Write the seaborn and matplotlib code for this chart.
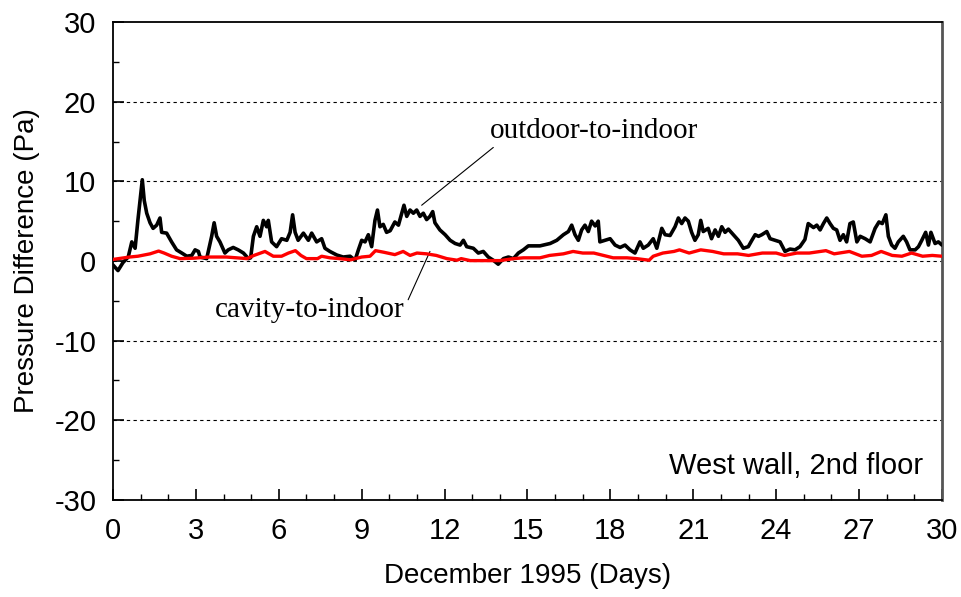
import pandas as pd
import matplotlib.pyplot as plt
import seaborn as sns

# outdoor-to-indoor pressure difference (Pa)
outdoor_days = [0.0, 0.18, 0.36, 0.55, 0.68, 0.8, 0.9, 1.0, 1.06, 1.13, 1.22, 1.34, 1.45, 1.58, 1.70,
                1.76, 1.94, 2.12, 2.3, 2.49, 2.67, 2.85, 2.97, 3.09, 3.15, 3.39, 3.57, 3.66, 3.75, 3.87,
                4.05, 4.17, 4.35, 4.53, 4.72, 4.9, 4.98, 5.08, 5.2, 5.32, 5.44, 5.56, 5.62, 5.74, 5.92,
                6.1, 6.29, 6.41, 6.5, 6.59, 6.7, 6.89, 7.07, 7.19, 7.37, 7.55, 7.67, 7.85, 8.1, 8.33,
                8.58, 8.76, 8.88, 9.0, 9.12, 9.24, 9.36, 9.48, 9.57, 9.66, 9.78, 9.9, 10.03, 10.2, 10.33,
                10.45, 10.53, 10.63, 10.75, 10.87, 10.99, 11.11, 11.23, 11.35, 11.47, 11.57, 11.65, 11.83,
                12.02, 12.2, 12.38, 12.56, 12.68, 12.8, 13.04, 13.22, 13.4, 13.58, 13.76, 13.94, 14.13,
                14.31, 14.49, 14.67, 14.85, 15.03, 15.45, 15.82, 16.06, 16.3, 16.48, 16.6, 16.72, 16.84,
                16.96, 17.08, 17.2, 17.32, 17.45, 17.56, 17.62, 17.8, 17.99, 18.17, 18.35, 18.53, 18.71,
                18.89, 19.07, 19.19, 19.37, 19.55, 19.68, 19.86, 19.98, 20.16, 20.34, 20.46, 20.58, 20.7,
                20.82, 20.94, 21.06, 21.18, 21.27, 21.36, 21.54, 21.66, 21.79, 21.91, 22.03, 22.15, 22.27,
                22.45, 22.63, 22.81, 22.99, 23.12, 23.24, 23.36, 23.48, 23.66, 23.78, 23.96, 24.14, 24.32,
                24.5, 24.68, 24.86, 25.04, 25.16, 25.35, 25.47, 25.59, 25.71, 25.83, 25.95, 26.07, 26.19,
                26.31, 26.43, 26.55, 26.67, 26.79, 26.92, 27.04, 27.22, 27.4, 27.58, 27.72, 27.84, 27.97,
                28.06, 28.18, 28.3, 28.42, 28.6, 28.72, 28.84, 29.03, 29.15, 29.27, 29.41, 29.51, 29.6,
                29.75, 29.87, 30.0]
outdoor_pa = [-0.5, -1.2, -0.2, 0.5, 2.4, 1.6, 5.1, 8.3, 10.2, 7.6, 6.0, 4.8, 4.1, 4.5, 5.4,
              3.6, 3.5, 2.4, 1.4, 1.0, 0.6, 0.7, 1.4, 1.2, 0.5, 0.3, 3.1, 4.8, 3.1, 2.4,
              1.0, 1.4, 1.7, 1.4, 1.0, 0.3, 0.4, 3.1, 4.3, 3.1, 5.1, 4.3, 5.1, 2.4, 1.8,
              2.8, 2.6, 3.6, 5.8, 3.6, 2.6, 3.5, 2.6, 3.5, 2.4, 2.8, 1.6, 1.2, 0.75, 0.5,
              0.6, 0.1, 1.4, 2.6, 2.4, 3.3, 1.8, 5.1, 6.4, 4.3, 4.6, 3.6, 3.8, 4.9, 4.5,
              6.0, 7.0, 5.6, 6.4, 6.0, 6.4, 5.6, 6.0, 5.2, 5.6, 6.2, 4.8, 3.9,
              3.3, 2.6, 2.2, 2.0, 2.6, 1.8, 1.6, 1.0, 1.2, 0.5, 0.1, -0.4, 0.3,
              0.5, 0.3, 1.0, 1.4, 1.9, 1.9, 2.2, 2.6, 3.3, 3.7, 4.5, 3.3, 2.6,
              3.9, 4.5, 3.7, 5.0, 4.4, 5.0, 2.4, 2.6, 2.8, 2.0, 1.7, 2.0, 1.4,
              1.0, 2.4, 1.6, 2.0, 2.8, 1.6, 4.1, 3.3, 3.2, 4.3, 5.4, 4.7, 5.4,
              5.0, 3.6, 2.6, 3.3, 5.1, 3.7, 4.1, 2.8, 3.9, 3.1, 4.3, 3.6, 4.0,
              3.3, 2.6, 1.6, 1.8, 2.6, 3.3, 3.1, 3.3, 3.7, 2.8, 2.6, 2.4, 1.2,
              1.5, 1.4, 1.8, 2.7, 4.7, 4.2, 4.5, 3.9, 4.7, 5.4, 4.7, 4.1, 3.9,
              2.6, 3.3, 2.4, 4.7, 4.9, 2.4, 3.1, 2.8, 2.4, 4.1, 4.9, 4.7, 5.8,
              3.1, 2.0, 1.6, 2.4, 3.1, 2.4, 1.4, 1.4, 1.8, 2.6, 3.6, 2.0, 3.6,
              2.2, 2.4, 2.0]

# cavity-to-indoor pressure difference (Pa)
cavity_days = [0.0, 0.6, 0.9, 1.34, 1.65, 1.85, 2.12, 2.43, 2.9, 3.5, 4.1, 4.85, 5.1, 5.5, 5.8, 6.1,
               6.35, 6.6, 6.8, 7.0, 7.4, 7.55, 7.85, 8.2, 8.6, 9.0, 9.3, 9.5, 9.8, 10.2, 10.5, 10.75,
               11.0, 11.35, 11.7, 12.08, 12.45, 12.6, 12.93, 13.5, 14.0, 14.5, 14.85, 15.2, 15.45,
               15.8, 16.3, 16.65, 17.0, 17.4, 17.75, 18.1, 18.6, 18.95, 19.4, 19.55, 19.9, 20.3, 20.5,
               20.85, 21.27, 21.7, 22.1, 22.6, 23.0, 23.5, 24.0, 24.3, 24.75, 25.2, 25.8, 26.1, 26.65,
               27.1, 27.45, 27.8, 28.2, 28.55, 28.9, 29.3, 29.65, 30.0]
cavity_pa = [0.2, 0.5, 0.6, 0.9, 1.25, 1.0, 0.6, 0.3, 0.35, 0.5, 0.5, 0.3, 0.7, 1.2, 0.6, 0.6,
             1.0, 1.3, 0.7, 0.3, 0.3, 0.6, 0.4, 0.3, 0.15, 0.5, 0.6, 1.3, 1.1, 0.8, 1.2, 0.7,
             1.0, 0.9, 0.7, 0.3, 0.1, 0.3, 0.05, 0.05, 0.05, 0.3, 0.4, 0.4, 0.4,
             0.7, 0.9, 1.2, 1.0, 1.0, 0.7, 0.4, 0.4, 0.3, 0.1, 0.6, 1.0, 1.2, 1.4,
             1.0, 1.4, 1.2, 0.9, 0.9, 0.7, 1.0, 1.0, 0.7, 1.0, 1.0, 1.3, 0.9, 1.2,
             0.6, 0.7, 1.2, 0.7, 0.6, 1.0, 0.6, 0.7, 0.6]

x_ticks = [0, 3, 6, 9, 12, 15, 18, 21, 24, 27, 30]
y_ticks = [-30, -20, -10, 0, 10, 20, 30]
grid_levels = [-20, -10, 0, 10, 20]


def plot_pressure():
    sns.set_style('ticks')
    plt.rcParams['font.family'] = ['Liberation Sans', 'DejaVu Sans']
    plt.rcParams['axes.unicode_minus'] = False
    plt.rcParams['text.color'] = 'black'
    plt.rcParams['axes.labelcolor'] = 'black'
    plt.rcParams['xtick.color'] = 'black'
    plt.rcParams['ytick.color'] = 'black'

    df_out = pd.DataFrame({'day': outdoor_days, 'pa': outdoor_pa})
    df_cav = pd.DataFrame({'day': cavity_days, 'pa': cavity_pa})

    fig = plt.figure(figsize=(9.61, 5.97), dpi=100)
    ax = fig.add_axes([0.1176, 0.1625, 0.8626, 0.8006])

    for lev in grid_levels:
        ax.axhline(lev, color='black', lw=0.8, ls=(0, (3, 3)), zorder=1)

    sns.lineplot(data=df_out, x='day', y='pa', color='black', lw=2.6,
                 estimator=None, sort=False, ax=ax, zorder=3)
    sns.lineplot(data=df_cav, x='day', y='pa', color='#ff0000', lw=2.4,
                 estimator=None, sort=False, ax=ax, zorder=4)

    ax.set_xlim(0, 30)
    ax.set_ylim(-30, 30)
    ax.set_xticks(x_ticks)
    ax.set_yticks(y_ticks)
    ax.set_xticks(range(0, 31), minor=True)
    ax.set_yticks(range(-25, 30, 10), minor=True)
    ax.tick_params(axis='both', which='major', direction='in', length=8, width=1.2,
                   labelsize=21, color='black')
    ax.tick_params(axis='both', which='minor', direction='in', length=4, width=1.0, color='black')
    ax.tick_params(axis='x', which='major', pad=12)
    ax.tick_params(axis='y', which='major', pad=12)
    for sp in ax.spines.values():
        sp.set_color('black')
        sp.set_linewidth(1.3)
    ax.spines['right'].set_color('#555555')
    ax.spines['right'].set_linewidth(2)

    ax.set_xlabel('December 1995 (Days)', fontsize=20, labelpad=13)
    ax.set_ylabel('Pressure Difference (Pa)', fontsize=20, labelpad=10)

    serif = ['Liberation Serif', 'DejaVu Serif']
    ax.annotate('outdoor-to-indoor', xy=(11.17, 7.0), xytext=(13.65, 16.3),
                fontsize=21, family=serif, va='center', ha='left',
                arrowprops=dict(arrowstyle='-', color='black', lw=0.8, shrinkA=0, shrinkB=0,
                                relpos=(0.05, 0.1)))
    ax.annotate('cavity-to-indoor', xy=(11.47, 1.2), xytext=(3.7, -6.1),
                fontsize=21, family=serif, va='center', ha='left',
                arrowprops=dict(arrowstyle='-', color='black', lw=0.8, shrinkA=0, shrinkB=0,
                                relpos=(1.0, 0.6)))
    ax.text(29.3, -26.8, 'West wall, 2nd floor', fontsize=21, ha='right', va='baseline')

    fig.savefig('out.png', dpi=100)


def main():
    plot_pressure()


if __name__ == "__main__":
    main()
